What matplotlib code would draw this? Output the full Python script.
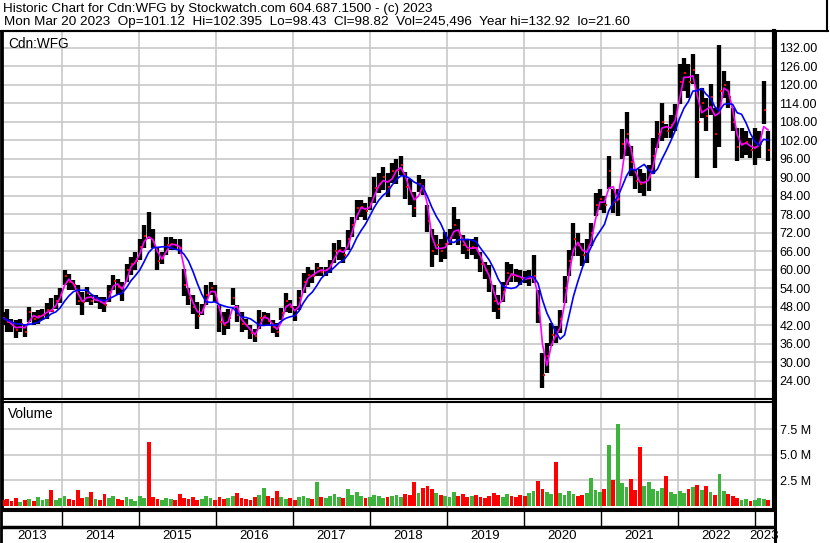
import numpy as np
import pandas as pd
import matplotlib
matplotlib.use('Agg')
import matplotlib.pyplot as plt
import matplotlib.dates as mdates
from matplotlib.lines import Line2D

plt.rcParams['font.family'] = ['Liberation Sans', 'DejaVu Sans']

# 3-weekly bars, Mar 2013 - Mar 2023
dates = pd.date_range('2013-03-25', periods=174, freq='21D')

high = [46.4, 47.5, 44.2, 43.7, 44.2, 42.6, 48.0, 46.4, 47.0, 47.5,
        49.2, 50.8, 51.8, 54.0, 59.9, 58.8, 56.6, 55.0, 52.9, 54.5,
        51.8, 51.8, 51.3, 51.3, 55.0, 58.3, 57.2, 56.0, 62.0, 64.2,
        65.8, 70.1, 74.5, 78.8, 73.4, 67.0, 65.8, 70.7, 70.7, 70.1,
        70.1, 60.3, 54.0, 51.8, 49.6, 49.1, 55.0, 56.0, 55.0, 48.5,
        46.4, 47.5, 54.3, 48.5, 46.4, 44.2, 42.0, 41.0, 47.0, 46.5,
        46.0, 43.8, 42.8, 47.6, 52.5, 50.3, 48.2, 53.6, 59.0, 61.1,
        60.0, 62.2, 61.1, 61.1, 63.3, 68.7, 69.8, 67.6, 73.0, 77.3,
        82.7, 82.7, 81.6, 83.8, 90.3, 91.4, 93.5, 91.4, 94.6, 96.0,
        97.1, 91.7, 89.6, 85.3, 90.7, 89.6, 81.0, 73.4, 71.2, 70.1,
        72.3, 73.4, 80.4, 76.6, 71.2, 70.1, 70.1, 70.7, 65.8, 62.6,
        61.5, 55.0, 51.8, 56.0, 62.6, 62.0, 60.4, 59.9, 59.6, 60.1,
        65.0, 53.6, 33.0, 36.3, 42.8, 41.7, 47.1, 57.9, 66.6, 75.3,
        72.0, 68.8, 69.9, 75.3, 85.1, 86.1, 84.0, 97.0, 86.1, 86.1,
        105.7, 111.1, 100.2, 92.6, 92.6, 91.6, 94.2, 102.9, 108.3, 114.2,
        107.2, 110.4, 113.7, 126.7, 128.9, 126.7, 130.0, 123.4, 119.1, 115.9,
        120.2, 112.6, 132.9, 124.5, 121.3, 112.6, 106.1, 106.1, 105.0, 102.9,
        106.1, 105.0, 121.3, 105.0]

low = [42.0, 40.0, 40.0, 38.0, 40.0, 38.3, 43.0, 42.0, 42.6, 43.7,
       44.2, 46.4, 47.5, 49.2, 55.0, 53.4, 53.4, 48.5, 45.3, 49.6,
       48.5, 49.2, 47.5, 46.4, 49.6, 53.4, 51.8, 49.8, 56.0, 58.3,
       59.9, 63.1, 67.0, 70.1, 67.0, 60.0, 62.0, 64.7, 66.4, 66.4,
       65.3, 51.6, 48.5, 45.8, 40.9, 45.3, 48.5, 51.8, 49.6, 39.8,
       38.8, 40.9, 48.5, 43.0, 39.8, 40.4, 37.7, 36.7, 41.0, 42.2,
       41.7, 39.5, 38.4, 43.8, 46.5, 46.0, 43.3, 47.1, 52.5, 54.6,
       55.7, 58.0, 58.0, 58.0, 59.0, 62.2, 63.3, 62.2, 66.5, 70.8,
       76.2, 77.3, 76.2, 79.5, 81.6, 84.9, 86.0, 83.8, 88.1, 88.0,
       90.7, 83.1, 81.0, 77.2, 85.3, 84.2, 72.3, 61.0, 64.7, 62.6,
       63.7, 68.0, 70.1, 68.0, 65.3, 63.7, 64.7, 63.7, 59.3, 57.2,
       52.9, 46.4, 44.2, 49.6, 55.0, 56.1, 56.1, 55.0, 55.8, 54.7,
       55.8, 42.8, 21.6, 26.5, 35.2, 36.3, 39.5, 49.3, 58.0, 64.5,
       64.5, 61.2, 62.3, 67.7, 77.5, 79.6, 78.6, 86.1, 78.6, 77.5,
       95.9, 97.0, 90.5, 86.1, 85.1, 84.0, 85.5, 91.0, 99.6, 101.8,
       102.9, 102.9, 105.0, 113.7, 118.0, 115.9, 120.2, 89.9, 109.4, 105.0,
       110.4, 93.0, 100.0, 115.9, 112.6, 105.0, 95.3, 96.3, 97.4, 96.3,
       94.2, 96.3, 107.2, 95.3]

close = [44.5, 43.0, 42.0, 40.5, 42.5, 40.0, 46.5, 44.0, 45.0, 45.5,
         47.0, 46.8, 50.0, 52.0, 58.0, 56.0, 55.0, 50.0, 49.5, 52.5,
         50.0, 50.5, 49.5, 48.5, 53.0, 56.5, 54.5, 53.0, 60.0, 62.0,
         63.0, 67.5, 71.0, 70.5, 69.0, 63.0, 64.0, 68.0, 68.5, 68.0,
         67.0, 55.0, 51.0, 48.0, 45.0, 47.0, 52.0, 54.0, 52.0, 43.0,
         42.0, 44.5, 51.0, 45.5, 42.5, 42.0, 39.5, 38.5, 44.5, 45.0,
         43.5, 41.5, 40.0, 46.0, 50.0, 48.0, 45.5, 51.0, 56.0, 58.5,
         58.0, 60.5, 59.5, 60.0, 61.5, 66.0, 66.5, 65.0, 70.0, 74.5,
         80.0, 80.5, 79.0, 81.5, 86.5, 88.0, 90.0, 87.0, 92.0, 92.5,
         94.0, 87.0, 85.5, 80.0, 88.0, 86.5, 76.0, 66.0, 68.0, 66.0,
         68.5, 70.5, 74.5, 71.5, 68.0, 66.5, 67.5, 67.0, 62.0, 60.0,
         56.0, 50.0, 47.5, 53.0, 59.0, 58.5, 58.0, 57.5, 57.0, 57.5,
         58.0, 46.0, 26.0, 32.0, 39.0, 38.5, 44.0, 54.0, 63.0, 70.0,
         68.0, 65.0, 66.5, 72.0, 81.0, 83.0, 81.0, 92.0, 82.0, 83.0,
         101.0, 104.0, 95.0, 89.0, 88.0, 88.5, 90.0, 97.0, 104.0, 108.0,
         105.0, 107.0, 110.0, 121.0, 124.0, 121.0, 125.0, 108.0, 114.0, 110.0,
         116.0, 104.0, 118.0, 120.0, 116.0, 108.0, 100.0, 101.0, 101.5, 99.0,
         100.0, 101.0, 112.0, 98.82]

# volume, millions
volume = [0.5, 0.6, 0.4, 0.7, 0.3, 0.5, 0.6, 0.4, 0.8, 0.5,
          0.6, 1.5, 0.5, 0.7, 0.9, 0.6, 0.5, 1.5, 0.7, 0.8,
          1.3, 0.6, 0.5, 1.1, 0.7, 0.9, 0.6, 0.5, 0.8, 0.6,
          0.4, 0.9, 0.7, 6.2, 0.8, 0.6, 0.5, 0.7, 0.6, 0.5,
          1.1, 0.7, 0.6, 0.8, 0.5, 0.6, 0.9, 0.7, 0.5, 0.8,
          0.6, 0.7, 0.9, 1.2, 0.7, 0.6, 0.5, 0.8, 1.0, 1.7,
          0.9, 0.7, 1.4, 0.8, 0.6, 0.7, 0.5, 0.8, 0.9, 0.7,
          0.6, 2.3, 0.8, 0.7, 0.9, 1.1, 0.8, 0.7, 1.6, 1.0,
          1.3, 0.9, 0.7, 0.8, 1.0, 0.9, 0.7, 0.8, 0.9, 1.0,
          0.8, 1.1, 1.0, 2.3, 1.2, 1.7, 1.9, 1.6, 1.2, 1.0,
          0.9, 0.8, 1.3, 0.9, 1.1, 0.8, 0.9, 1.0, 0.8, 0.7,
          0.9, 1.2, 1.0, 0.8, 1.1, 0.9, 0.8, 1.0, 0.9, 1.2,
          1.4, 2.4, 1.6, 1.3, 1.1, 4.3, 1.2, 1.0, 1.4, 1.1,
          0.9, 1.0, 1.2, 2.7, 1.5, 1.3, 1.6, 5.9, 2.5, 8.0,
          2.2, 1.8, 2.6, 1.5, 5.7, 1.9, 2.3, 1.6, 1.4, 1.7,
          2.9, 1.3, 1.1, 1.4, 1.2, 1.6, 1.8, 2.0, 1.5, 1.9,
          1.3, 1.0, 3.1, 1.4, 1.1, 0.9, 0.7, 0.5, 0.6, 0.4,
          0.5, 0.7, 0.6, 0.5]

price_ticks = list(range(24, 133, 6))
vol_ticks = [2.5, 5.0, 7.5]
vol_tick_labels = ['2.5 M', '5.0 M', '7.5 M']
years = list(range(2013, 2024))

header1 = 'Historic Chart for Cdn:WFG by Stockwatch.com 604.687.1500 - (c) 2023'
header2 = ('Mon Mar 20 2023  Op=101.12  Hi=102.395  Lo=98.43  Cl=98.82  '
           'Vol=245,496  Year hi=132.92  lo=21.60')

W, H = 830, 543
fig = plt.figure(figsize=(W / 100, H / 100), dpi=100)


def rect(x0, y0, x1, y1):
    return [x0 / W, 1 - y1 / H, (x1 - x0) / W, (y1 - y0) / H]


xmin = pd.Timestamp('2013-03-22')
xmax = pd.Timestamp('2023-04-03')
grid_c = '#c8c8c8'

# price panel
ax = fig.add_axes(rect(2, 31, 774, 399))
ax.vlines(dates, low, high, color='black', lw=3.1, zorder=3)
ax.scatter(dates + pd.Timedelta(days=6), close, marker='s', s=3, c='red',
           lw=0, zorder=4)
cs = pd.Series(close, index=dates)
ax.plot(dates, cs.rolling(2, min_periods=1).mean(), color='#ff00ff', lw=1.2, zorder=5)
ax.plot(dates, cs.rolling(6, min_periods=1).mean(), color='#0000ff', lw=1.2, zorder=5)
ax.set_xlim(xmin, xmax)
ax.set_ylim(18.16, 137.5)
ax.xaxis.set_major_locator(mdates.YearLocator())
ax.set_yticks(price_ticks)
ax.set_yticklabels(['%.2f' % v for v in price_ticks])
ax.yaxis.tick_right()
ax.tick_params(axis='y', length=0, pad=4, labelsize=9)
ax.tick_params(axis='x', length=0, labelbottom=False)
ax.grid(True, color=grid_c, lw=1.2, zorder=0)
ax.text(0.008, 0.985, 'Cdn:WFG', transform=ax.transAxes, ha='left', va='top', fontsize=9.8)
for s in ax.spines.values():
    s.set_linewidth(1.5)
ax.spines['left'].set_linewidth(2)
ax.spines['right'].set_linewidth(3)

# volume panel
vax = fig.add_axes(rect(2, 402, 774, 508.5))
vcol = ['#3cb43c' if i > 0 and close[i] >= close[i - 1] else '#ff0000'
        for i in range(len(close))]
vax.bar(dates, volume, width=18, color=vcol, zorder=3)
vax.set_xlim(xmin, xmax)
vax.set_ylim(-0.29, 10.15)
vax.xaxis.set_major_locator(mdates.YearLocator())
vax.set_yticks(vol_ticks)
vax.set_yticklabels(vol_tick_labels)
vax.yaxis.tick_right()
vax.tick_params(axis='y', length=0, pad=4, labelsize=9)
vax.tick_params(axis='x', length=0, labelbottom=False)
vax.grid(True, color=grid_c, lw=1.2, zorder=0)
vax.text(0.008, 0.95, 'Volume', transform=vax.transAxes, ha='left', va='top', fontsize=9.8)
for s in vax.spines.values():
    s.set_linewidth(1.5)
vax.spines['left'].set_linewidth(2)
vax.spines['right'].set_linewidth(3)

# blank strip with year separators
sax = fig.add_axes(rect(2, 511, 774, 527))
sax.set_xlim(xmin, xmax)
sax.set_ylim(0, 1)
for y in years[1:]:
    sax.axvline(pd.Timestamp('%d-01-01' % y), color='black', lw=1)
sax.set_xticks([])
sax.set_yticks([])
for s in sax.spines.values():
    s.set_visible(False)
sax.spines['top'].set_visible(True)
sax.spines['top'].set_linewidth(1.5)
sax.spines['bottom'].set_visible(True)
sax.spines['bottom'].set_linewidth(2.5)

# year labels row
yax = fig.add_axes(rect(2, 528, 774, 543))
yax.set_xlim(xmin, xmax)
yax.set_ylim(0, 1)
for y in years:
    a = max(pd.Timestamp('%d-01-01' % y), xmin)
    b = min(pd.Timestamp('%d-01-01' % (y + 1)), xmax)
    yax.text(a + (b - a) / 2, 0.45, str(y), ha='center', va='center', fontsize=9.5)
yax.axis('off')

# header and outer lines
fig.text(3 / W, 1 - 9 / H, header1, ha='left', va='center', fontsize=9.65)
fig.text(4 / W, 1 - 21.5 / H, header2, ha='left', va='center', fontsize=9.7)
fig.add_artist(Line2D([0, 828 / W], [1 - 30.5 / H] * 2, color='black', lw=1.5))
fig.add_artist(Line2D([827 / W] * 2, [1, 1 - 31 / H], color='black', lw=1.5))
fig.add_artist(Line2D([1 / W] * 2, [0, 1 - 31 / H], color='black', lw=2))
fig.add_artist(Line2D([774.5 / W] * 2, [0, 1 - 31 / H], color='black', lw=2.2))

fig.savefig('out.png', dpi=100)
